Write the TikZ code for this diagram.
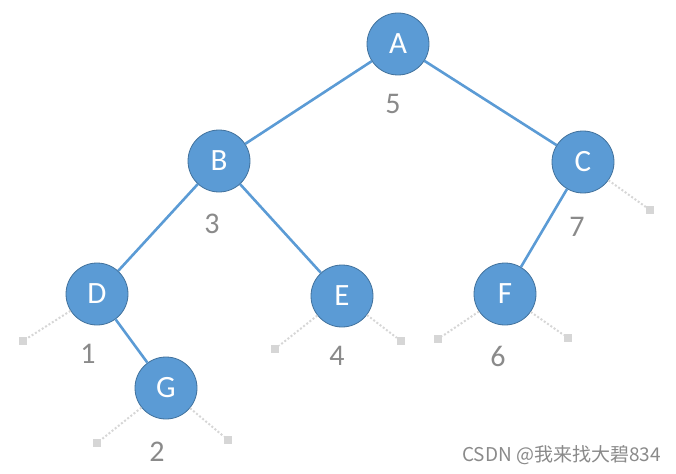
\documentclass[tikz,border=0pt]{standalone}
\usepackage{fontspec}
\setmainfont{Carlito}
\newfontfamily\cjk{Noto Sans CJK SC}

\definecolor{nodeblue}{HTML}{5B9BD5}
\definecolor{nodeedge}{HTML}{41719C}
\definecolor{numgray}{HTML}{8A8A8A}
\definecolor{nullgray}{HTML}{D6D6D6}

\tikzset{
  vertex/.style={circle, fill=nodeblue, draw=nodeedge, line width=0.8pt,
    minimum size=62pt, inner sep=0pt, text=white,
    font=\fontsize{31}{31}\selectfont},
  weight/.style={text=numgray, inner sep=0pt, font=\fontsize{30}{30}\selectfont},
  nullbox/.style={fill=nullgray, minimum size=8pt, inner sep=0pt},
  treeedge/.style={nodeblue, line width=2.6pt},
  nulledge/.style={nullgray, dotted, line width=2pt}
}

\begin{document}
\begin{tikzpicture}[x=1pt, y=-1pt]

\useasboundingbox (0, 0) rectangle (676, 473);

\node[vertex] (a) at (398, 44) {A};
\node[vertex] (b) at (219, 161) {B};
\node[vertex] (c) at (583, 162) {C};
\node[vertex] (d) at (97, 294) {D};
\node[vertex] (e) at (342, 296) {E};
\node[vertex] (f) at (505, 294) {F};
\node[vertex] (g) at (166, 388) {G};

\node[weight] (wa) at (393, 104) {5};
\node[weight] (wb) at (212, 224) {3};
\node[weight] (wc) at (577, 227) {7};
\node[weight] (wd) at (88, 354) {1};
\node[weight] (we) at (337, 356) {4};
\node[weight] (wf) at (498, 356) {6};
\node[weight] (wg) at (157, 452) {2};

\node[nullbox] (dl) at (23, 341) {};
\node[nullbox] (gl) at (97, 443) {};
\node[nullbox] (gr) at (228, 440) {};
\node[nullbox] (el) at (275, 349) {};
\node[nullbox] (er) at (401, 341) {};
\node[nullbox] (fl) at (438, 339) {};
\node[nullbox] (fr) at (568, 338) {};
\node[nullbox] (cr) at (650, 210) {};

\draw[treeedge] (a) to (b);
\draw[treeedge] (a) to (c);
\draw[treeedge] (b) to (d);
\draw[treeedge] (b) to (e);
\draw[treeedge] (c) to (f);
\draw[treeedge] (d) to (g);

\draw[nulledge] (d) to (dl);
\draw[nulledge] (g) to (gl);
\draw[nulledge] (g) to (gr);
\draw[nulledge] (e) to (el);
\draw[nulledge] (e) to (er);
\draw[nulledge] (f) to (fl);
\draw[nulledge] (f) to (fr);
\draw[nulledge] (c) to (cr);

\node[text=numgray, anchor=east, inner sep=0pt, font=\cjk\fontsize{19}{19}\selectfont]
  (mark) at (661, 455) {CSDN @我来找大碧834};

\end{tikzpicture}
\end{document}
